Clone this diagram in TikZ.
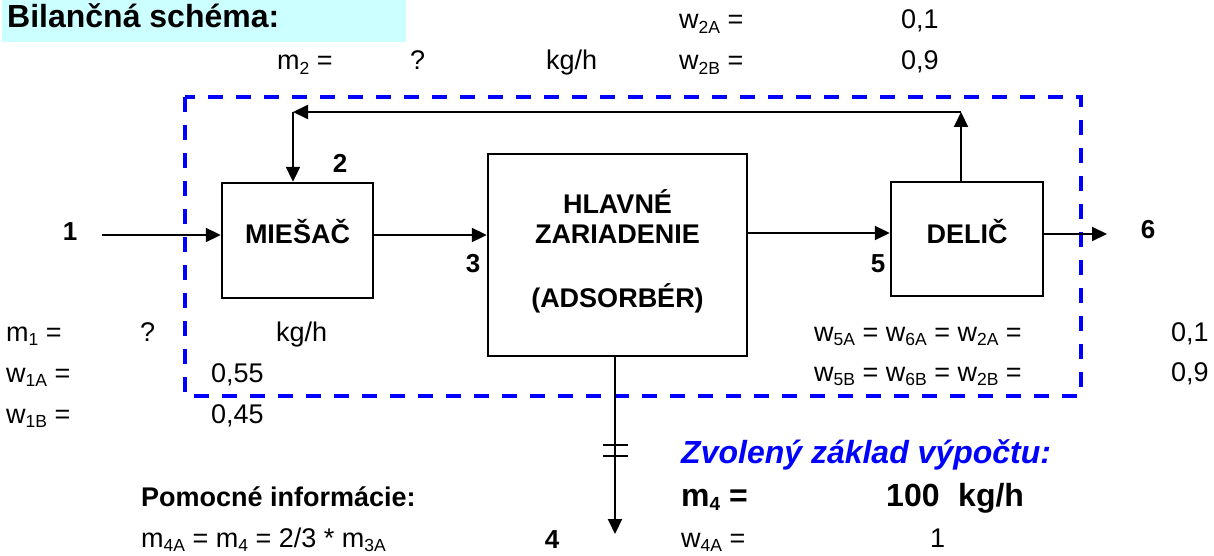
\documentclass[tikz,border=0pt]{standalone}
\usepackage{fontspec}
\setmainfont{Liberation Sans}
\usetikzlibrary{arrows.meta,calc,positioning}
\definecolor{titlecyan}{HTML}{CCFFFF}
\definecolor{boundblue}{HTML}{0000FF}
\newcommand{\idx}[2][17.5]{\raisebox{-4.5pt}{\fontsize{#1}{#1}\selectfont #2}}

\begin{document}
\begin{tikzpicture}[
    x=1pt, y=-1pt,
    >=Triangle,
    txt/.style={anchor=base west, inner sep=0pt, font=\fontsize{27}{30}\selectfont},
    boldtxt/.style={anchor=base west, inner sep=0pt, font=\fontsize{27}{30}\selectfont\bfseries},
    bigtxt/.style={anchor=base west, inner sep=0pt, font=\fontsize{32}{36}\selectfont\bfseries},
    basis/.style={anchor=base west, inner sep=0pt, text=boundblue, font=\fontsize{32}{36}\selectfont\bfseries\itshape},
    streamno/.style={anchor=base, inner sep=0pt, font=\fontsize{26}{30}\selectfont\bfseries},
    unit/.style={draw=black, line width=2.4pt, inner sep=0pt},
    unitname/.style={anchor=base, inner sep=0pt, font=\fontsize{27}{30}\selectfont\bfseries},
    flow/.style={black, line width=2pt, -{Triangle[length=15pt, width=14pt]}},
    breakmark/.style={black, line width=2.4pt},
    bound/.style={boundblue, line width=3.5pt, dash pattern=on 15pt off 13pt}
]
\useasboundingbox (0,0) rectangle (1214,556);

% -------- title --------
\fill[titlecyan] (2,0) rectangle (406,42);
\node[bigtxt] (title) at (7,28) {Bilančná schéma:};

% -------- balance boundary --------
\draw[bound] (185,97) rectangle (1081,396);

% -------- units --------
\node[unit, minimum width=151pt, minimum height=115pt] (mix) at (297.5,240.5) {};
\node[unit, minimum width=259pt, minimum height=202pt] (main) at (617.5,255) {};
\node[unit, minimum width=152pt, minimum height=114pt] (split) at (967,239) {};

\node[unitname] (mixname) at ([yshift=-2.5pt]mix.center) {MIEŠAČ};
\node[unitname] (mainname1) at ([yshift=42pt]main.center) {HLAVNÉ};
\node[unitname] (mainname2) at ([yshift=12pt]main.center) {ZARIADENIE};
\node[unitname] (mainname3) at ([yshift=-52pt]main.center) {(ADSORBÉR)};
\node[unitname] (splitname) at ([yshift=-4pt]split.center) {DELIČ};

% -------- streams --------
\coordinate (in1) at (102,235);
\coordinate (lvla) at (0,235);
\coordinate (lvlb) at (0,233);
\coordinate (out6) at (1107,234);
\coordinate (out4) at (615,534);
\coordinate (fbL) at (293,112);
\coordinate (fbR) at (961,112);

\draw[flow] (in1) -- (in1 -| mix.west);
\draw[flow] (mix.east |- lvla) -- (main.west |- lvla);
\draw[flow] (main.east |- lvlb) -- (split.west |- lvlb);
\draw[flow] (split.east |- out6) -- (out6);
\draw[flow] (split.north -| fbR) -- (fbR);
\draw[flow] (fbR) -- (fbL);
\draw[flow] (fbL) -- (fbL |- mix.north);
\draw[flow] (main.south -| out4) -- (out4);
% break in stream 4
\foreach \ty in {445,456}{
    \draw[breakmark] (603,\ty) -- ++(25,0);
}

\node[streamno] (s1) at (70,240) {1};
\node[streamno] (s2) at (340,173) {2};
\node[streamno] (s3) at (473,272) {3};
\node[streamno] (s5) at (878,272) {5};
\node[streamno] (s6) at (1148,238) {6};
\node[streamno] (s4) at (552,548) {4};

% -------- stream 2 data --------
\node[txt] (m2lbl) at (277,70) {m\idx{2} =};
\node[txt] (m2val) at (410,70) {?};
\node[txt] (m2unit) at (546,70) {kg/h};
\node[txt] (w2Albl) at (679,29) {w\idx{2A} =};
\node[txt] (w2Aval) at (901,29) {0,1};
\node[txt] (w2Blbl) at (679,70) {w\idx{2B} =};
\node[txt] (w2Bval) at (901,70) {0,9};

% -------- stream 1 data --------
\node[txt] (m1lbl) at (6,341) {m\idx{1} =};
\node[txt] (m1val) at (140,341) {?};
\node[txt] (m1unit) at (276,341) {kg/h};
\node[txt] (w1Albl) at (6,382) {w\idx{1A} =};
\node[txt] (w1Aval) at (211,382) {0,55};
\node[txt] (w1Blbl) at (6,423) {w\idx{1B} =};
\node[txt] (w1Bval) at (211,423) {0,45};

% -------- streams 5, 6 data --------
\node[txt] (w5Albl) at (814,341) {w\idx{5A} = w\idx{6A} = w\idx{2A} =};
\node[txt] (w5Aval) at (1171,341) {0,1};
\node[txt] (w5Blbl) at (814,381) {w\idx{5B} = w\idx{6B} = w\idx{2B} =};
\node[txt] (w5Bval) at (1171,381) {0,9};

% -------- basis and auxiliary info --------
\node[boldtxt] (auxhead) at (141,506) {Pomocné informácie:};
\node[txt] (auxeq) at (141,547) {m\idx{4A} = m\idx{4} = 2/3 * m\idx{3A}};

\node[basis] (basishead) at (681,463) {Zvolený základ výpočtu:};
\node[bigtxt] (m4lbl) at (681,506) {m\idx[19]{4} =};
\node[bigtxt] (m4val) at (886,506) {100};
\node[bigtxt] (m4unit) at (958,506) {kg/h};
\node[txt] (w4Albl) at (681,547) {w\idx{4A} =};
\node[txt] (w4Aval) at (930,547) {1};

\end{tikzpicture}
\end{document}
